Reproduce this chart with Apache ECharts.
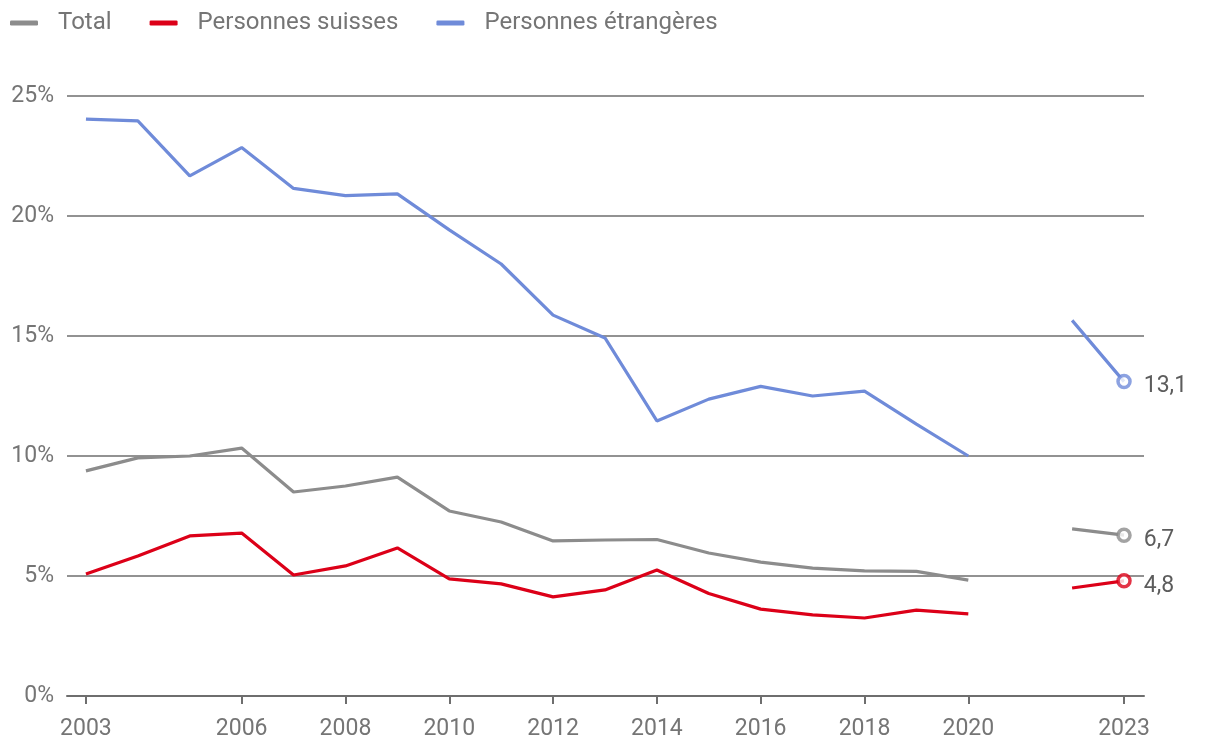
<!DOCTYPE html>
<html><head><meta charset="utf-8">
<script src="https://cdn.jsdelivr.net/npm/echarts@6/dist/echarts.min.js"></script>
<style>html,body{margin:0;padding:0;background:#fff}#c{width:1220px;height:756px}</style>
</head><body><div id="c"></div>
<script>
const years = [2003,2004,2005,2006,2007,2008,2009,2010,2011,2012,2013,2014,2015,2016,2017,2018,2019,2020,2021,2022,2023];
const tickYears = [2003,2006,2008,2010,2012,2014,2016,2018,2020,2023];
const totalVals = [9.38,9.92,10.0,10.33,8.5,8.75,9.12,7.71,7.25,6.46,6.5,6.52,5.96,5.58,5.33,5.21,5.19,4.83,null,6.96,6.7];
const suissesVals = [5.08,5.83,6.67,6.79,5.04,5.42,6.17,4.88,4.67,4.13,4.42,5.25,4.27,3.62,3.38,3.25,3.58,3.42,null,4.5,4.8];
const etrangVals = [24.04,23.96,21.67,22.85,21.15,20.85,20.92,19.42,18.0,15.87,14.92,11.46,12.37,12.9,12.5,12.7,11.33,10.0,null,15.65,13.1];
const names = ['Total','Personnes suisses','Personnes étrangères'];
const colors = ['#8c8c8c','#dc0018','#6f8bd9'];
const allVals = [totalVals, suissesVals, etrangVals];

const chart = echarts.init(document.getElementById('c'), null, {renderer:'canvas'});
const series = [];
allVals.forEach((vals, i) => {
  series.push({
    name: names[i], type: 'line', symbol: 'none', connectNulls: false,
    lineStyle: {color: colors[i], width: 3.2}, itemStyle: {color: colors[i]},
    data: years.map((y, k) => [y, vals[k]]), z: 3
  });
  const last = vals.length - 1;
  series.push({
    name: names[i], type: 'scatter', symbol: 'circle', symbolSize: 12,
    itemStyle: {color: '#fff', borderColor: colors[i], borderWidth: 3.5}, z: 4,
    label: {show: true, position: 'right', distance: 12, offset: [0, 5], color: '#333', fontSize: 23, fontFamily: 'Roboto',
      formatter: p => p.value[1].toFixed(1).replace('.', ',')},
    data: [[years[last], vals[last]]]
  });
});

chart.setOption({
  animation: false,
  textStyle: {fontFamily: 'Roboto'},
  legend: {
    left: 5, top: 6, itemWidth: 28, itemHeight: 5, itemGap: 38, icon: 'roundRect',
    textStyle: {color: '#757575', fontSize: 24, fontFamily: 'Roboto', padding: [0,0,0,15]},
    data: names.map((n, i) => ({name: n, itemStyle: {color: colors[i]}}))
  },
  grid: {left: 67, right: 76, top: 96, bottom: 60, containLabel: false},
  xAxis: {
    type: 'value', min: 2002.635, max: 2023.385,
    axisLine: {show: true, onZero: false, lineStyle: {color: '#6e6e6e', width: 2}},
    axisTick: {show: true, customValues: tickYears, length: 8, lineStyle: {color: '#6e6e6e', width: 2}},
    axisLabel: {customValues: tickYears, color: '#757575', fontSize: 23, margin: 22, formatter: v => String(v)},
    splitLine: {show: false}
  },
  yAxis: {
    type: 'value', min: 0, max: 25, interval: 5,
    axisLine: {show: false}, axisTick: {show: false},
    axisLabel: {color: '#757575', fontSize: 23, margin: 13, formatter: '{value}%'},
    splitLine: {lineStyle: {color: '#6e6e6e', width: 1.5}}
  },
  series: series
});
</script></body></html>
